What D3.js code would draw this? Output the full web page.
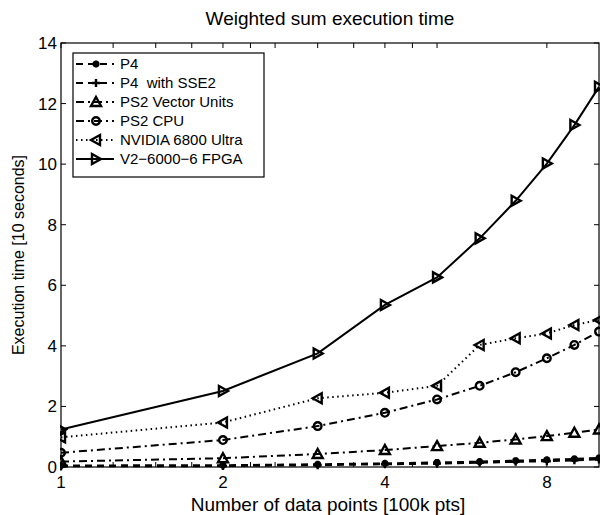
<!DOCTYPE html>
<html>
<head>
<meta charset="utf-8">
<script src="https://cdn.jsdelivr.net/npm/d3@7"></script>
<style>
  body { margin: 0; background: #fff; }
  text { font-family: "Liberation Sans", Arial, sans-serif; fill: #000; white-space: pre; }
</style>
</head>
<body>
<div id="chart"></div>
<script>
// data points in 100k units
const points = [1, 2, 3, 4, 5, 6, 7, 8, 9, 10];
const p4 = [0.05, 0.06, 0.09, 0.12, 0.15, 0.18, 0.21, 0.24, 0.27, 0.30];
const p4Sse2 = [0.02, 0.03, 0.06, 0.09, 0.11, 0.14, 0.17, 0.19, 0.22, 0.25];
const ps2Vu = [0.18, 0.29, 0.43, 0.56, 0.69, 0.80, 0.91, 1.02, 1.13, 1.24];
const ps2Cpu = [0.47, 0.89, 1.35, 1.79, 2.23, 2.68, 3.13, 3.59, 4.03, 4.47];
const nvidia = [0.98, 1.47, 2.27, 2.45, 2.68, 4.03, 4.25, 4.41, 4.69, 4.85];
const fpga = [1.24, 2.51, 3.75, 5.35, 6.26, 7.55, 8.79, 10.02, 11.29, 12.55];

const xTicks = [1, 1.25, 1.5, 1.75, 2, 2.25, 2.5, 3, 3.5, 4, 4.5, 5, 8];
const xTickLabels = [1, 2, 4, 8];
const yTicks = [0, 2, 4, 6, 8, 10, 12, 14];

const series = [
  { name: 'P4', values: p4, dash: '7,5', marker: 'star' },
  { name: 'P4  with SSE2', values: p4Sse2, dash: '7,5', marker: 'plus' },
  { name: 'PS2 Vector Units', values: ps2Vu, dash: '8,4,2,4', marker: 'tri-up' },
  { name: 'PS2 CPU', values: ps2Cpu, dash: '8,4,2,4', marker: 'circle' },
  { name: 'NVIDIA 6800 Ultra', values: nvidia, dash: '1.5,3.5', marker: 'tri-left' },
  { name: 'V2\u22126000\u22126 FPGA', values: fpga, dash: null, marker: 'tri-right' },
];

const width = 602, height = 515;
const margin = { top: 43, right: 3, bottom: 48, left: 61 };
const innerW = width - margin.left - margin.right;
const innerH = height - margin.top - margin.bottom;

const svg = d3.select('#chart').append('svg')
  .attr('width', width)
  .attr('height', height);

const x = d3.scaleLog().domain([1, 10]).range([0, innerW]);
const y = d3.scaleLinear().domain([0, 14]).range([innerH, 0]);

const g = svg.append('g')
  .attr('transform', `translate(${margin.left},${margin.top})`);

svg.append('defs').append('clipPath').attr('id', 'plot-clip')
  .append('rect').attr('x', -1).attr('y', -8).attr('width', innerW + 2).attr('height', innerH + 16);

// markers, matlab style (no fill)
function drawMarker(sel, type) {
  const s = 5;
  if (type === 'circle') {
    sel.append('circle').attr('r', 3.8);
  } else if (type === 'plus') {
    sel.append('path').attr('d', 'M-4,0H4M0,-4V4');
  } else if (type === 'star') {
    sel.append('path').attr('d', 'M-3.5,0H3.5M0,-3.5V3.5M-2.5,-2.5L2.5,2.5M-2.5,2.5L2.5,-2.5');
  } else if (type === 'tri-up') {
    sel.append('path').attr('d', `M0,${-s}L${s},${s * 0.8}L${-s},${s * 0.8}Z`);
  } else if (type === 'tri-left') {
    sel.append('path').attr('d', `M${-s},0L${s * 0.8},${-s}L${s * 0.8},${s}Z`);
  } else if (type === 'tri-right') {
    sel.append('path').attr('d', `M${s},0L${-s * 0.8},${-s}L${-s * 0.8},${s}Z`);
  }
}

const line = d3.line()
  .x((d, i) => x(points[i]))
  .y((d) => y(d));

const plot = g.append('g').attr('clip-path', 'url(#plot-clip)');

series.forEach((s) => {
  plot.append('path')
    .datum(s.values)
    .attr('fill', 'none')
    .attr('stroke', '#000')
    .attr('stroke-width', 2)
    .attr('stroke-dasharray', s.dash)
    .attr('d', line);

  plot.selectAll(null)
    .data(s.values)
    .join('g')
    .attr('transform', (d, i) => `translate(${x(points[i])},${y(d)})`)
    .attr('fill', 'none')
    .attr('stroke', '#000')
    .attr('stroke-width', 2.4)
    .each(function () { drawMarker(d3.select(this), s.marker); });
});

// box and ticks
g.append('rect')
  .attr('width', innerW).attr('height', innerH)
  .attr('fill', 'none').attr('stroke', '#000').attr('stroke-width', 1.2);

const tickLen = 5;
g.selectAll('.xt-bottom').data(xTicks).join('line')
  .attr('x1', (d) => x(d)).attr('x2', (d) => x(d))
  .attr('y1', innerH).attr('y2', innerH - tickLen)
  .attr('stroke', '#000');
g.selectAll('.xt-top').data(xTicks).join('line')
  .attr('x1', (d) => x(d)).attr('x2', (d) => x(d))
  .attr('y1', 0).attr('y2', tickLen)
  .attr('stroke', '#000');
g.selectAll('.yt-left').data(yTicks).join('line')
  .attr('x1', 0).attr('x2', tickLen)
  .attr('y1', (d) => y(d)).attr('y2', (d) => y(d))
  .attr('stroke', '#000');
g.selectAll('.yt-right').data(yTicks).join('line')
  .attr('x1', innerW).attr('x2', innerW - tickLen)
  .attr('y1', (d) => y(d)).attr('y2', (d) => y(d))
  .attr('stroke', '#000');

g.selectAll('.xl').data(xTickLabels).join('text')
  .attr('x', (d) => x(d)).attr('y', innerH + 21)
  .attr('text-anchor', 'middle')
  .attr('font-size', 17)
  .text((d) => d);
g.selectAll('.yl').data(yTicks).join('text')
  .attr('x', -4).attr('y', (d) => y(d) + 6)
  .attr('text-anchor', 'end')
  .attr('font-size', 17)
  .text((d) => d);

// titles
svg.append('text')
  .attr('x', margin.left + innerW / 2).attr('y', 25)
  .attr('text-anchor', 'middle').attr('font-size', 19)
  .text('Weighted sum execution time');
svg.append('text')
  .attr('x', margin.left + innerW / 2 - 2).attr('y', 511)
  .attr('text-anchor', 'middle').attr('font-size', 19)
  .text('Number of data points [100k pts]');
svg.append('text')
  .attr('transform', `translate(24,${margin.top + innerH / 2}) rotate(-90)`)
  .attr('text-anchor', 'middle').attr('font-size', 16)
  .text('Execution time [10 seconds]');

// legend
const legend = svg.append('g').attr('transform', 'translate(73,53)');
legend.append('rect')
  .attr('width', 191).attr('height', 124)
  .attr('fill', '#fff').attr('stroke', '#000').attr('stroke-width', 1.2);

const rows = legend.selectAll('.row').data(series).join('g')
  .attr('transform', (d, i) => `translate(0,${11 + i * 19})`);
rows.append('line')
  .attr('x1', 3).attr('x2', 41)
  .attr('stroke', '#000').attr('stroke-width', 2)
  .attr('stroke-dasharray', (d) => d.dash);
rows.append('g')
  .attr('transform', 'translate(23,0)')
  .attr('fill', 'none').attr('stroke', '#000').attr('stroke-width', 2.4)
  .each(function (d) { drawMarker(d3.select(this), d.marker); });
rows.append('text')
  .attr('x', 47).attr('y', 5)
  .attr('font-size', 15)
  .text((d) => d.name);
</script>
</body>
</html>
